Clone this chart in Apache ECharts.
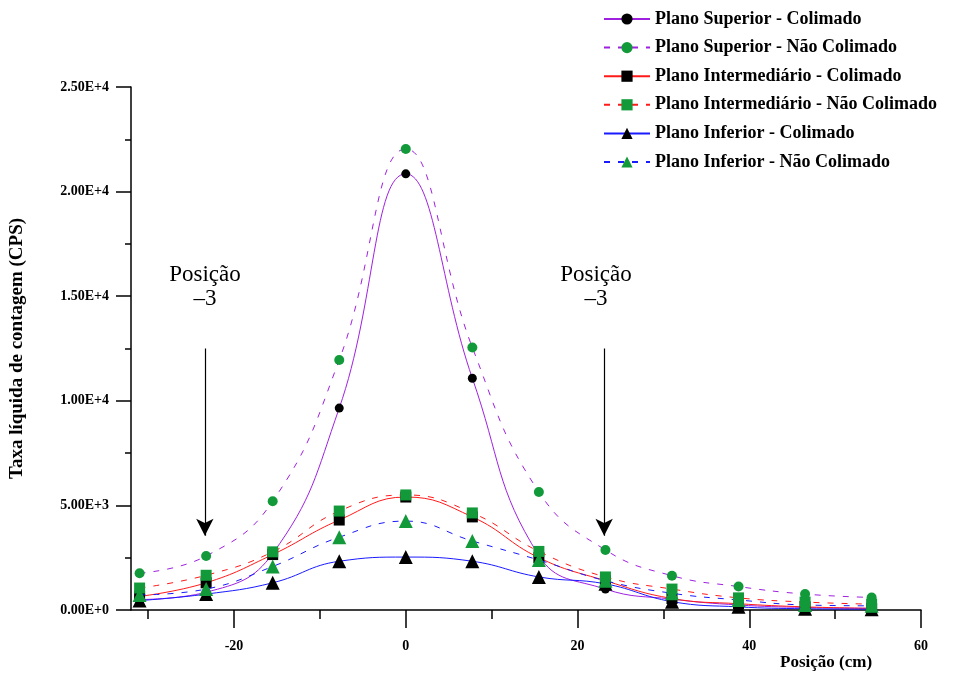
<!DOCTYPE html>
<html>
<head>
<meta charset="utf-8">
<script src="https://cdn.jsdelivr.net/npm/echarts@6/dist/echarts.min.js"></script>
<style>
    html,body{margin:0;padding:0;background:#fff;}
    #chart{width:958px;height:677px;}
</style>
</head>
<body>
<div id="chart"></div>
<script>
// posições (cm)
var posicoes = [-31, -23.25, -15.5, -7.75, 0, 7.75, 15.5, 23.25, 31, 38.75, 46.5, 54.25];

var superiorCol = [500, 850, 2700, 9650, 20850, 11080, 2600, 1000, 520, 240, 120, 80];
var superiorNao = [1760, 2580, 5200, 11950, 22040, 12550, 5640, 2870, 1640, 1120, 760, 600];
var interCol    = [650, 1300, 2650, 4300, 5400, 4450, 2500, 1400, 550, 300, 150, 80];
var interNao    = [1050, 1660, 2780, 4730, 5500, 4640, 2800, 1580, 1000, 580, 380, 280];
var inferiorCol = [450, 760, 1300, 2330, 2530, 2330, 1580, 1250, 400, 150, 60, 40];
var inferiorNao = [720, 1000, 2080, 3480, 4250, 3300, 2390, 1400, 800, 480, 240, 200];

var yLabels = ['0.00E+0', '5.00E+3', '1.00E+4', '1.50E+4', '2.00E+4', '2.50E+4'];
var xLabels = [-20, 0, 20, 40, 60];
var xMinor  = [-30, -10, 10, 30, 50];

var nomes = [
    'Plano Superior - Colimado',
    'Plano Superior - Não Colimado',
    'Plano Intermediário - Colimado',
    'Plano Intermediário - Não Colimado',
    'Plano Inferior - Colimado',
    'Plano Inferior - Não Colimado'
];

var serif = '"Liberation Serif", "Times New Roman", serif';
var purple = '#a020e0', red = '#ff1a1a', blue = '#1a1aff', green = '#129a3a';

function pares(vals){
    var out = [];
    for (var i = 0; i < posicoes.length; i++) out.push([posicoes[i], vals[i]]);
    return out;
}

function serie(nome, vals, cor, dash, simbolo, tam, corSimb, z){
    return {
        name: nome,
        type: 'line',
        data: pares(vals),
        smooth: 0.45,
        symbol: simbolo,
        symbolSize: tam,
        showAllSymbol: true,
        z: z,
        lineStyle: { color: cor, width: 1, type: dash ? [6, 8] : 'solid' },
        itemStyle: { color: corSimb, borderWidth: 0 },
        emphasis: { disabled: true }
    };
}

var series = [
    serie(nomes[0], superiorCol, purple, false, 'circle', 9, '#000', 2),
    serie(nomes[1], superiorNao, purple, true, 'circle', 10, green, 4),
    serie(nomes[2], interCol, red, false, 'rect', 11, '#000', 2),
    serie(nomes[3], interNao, red, true, 'rect', 11, green, 4),
    serie(nomes[4], inferiorCol, blue, false, 'triangle', 14, '#000', 2),
    serie(nomes[5], inferiorNao, blue, true, 'triangle', 14, green, 4)
];

// setas das posições
series.push({
    type: 'line',
    data: [],
    silent: true,
    markLine: {
        silent: true,
        symbol: ['none', 'arrow'],
        symbolSize: [13, 17],
        label: { show: false },
        lineStyle: { color: '#000', width: 1.2, type: 'solid' },
        data: [
            [{ coord: [-23.4, 12500] }, { coord: [-23.4, 3550] }],
            [{ coord: [23.1, 12500] }, { coord: [23.1, 3550] }]
        ]
    }
});

var myChart = echarts.init(document.getElementById('chart'));
myChart.setOption({
    animation: false,
    backgroundColor: '#fff',
    grid: { left: 131, right: 37, top: 87, bottom: 67, containLabel: false, outerBoundsMode: 'none' },
    legend: {
        orient: 'vertical',
        left: 598,
        top: 5,
        itemWidth: 46,
        itemHeight: 14,
        itemGap: 10.6,
        data: nomes,
        selectedMode: false,
        textStyle: { fontFamily: serif, fontWeight: 'bold', fontSize: 18, color: '#000' }
    },
    xAxis: [{
        type: 'value',
        min: -32,
        max: 60,
        position: 'bottom',
        splitLine: { show: false },
        axisLine: { onZero: false, lineStyle: { color: '#000', width: 1.5 } },
        axisTick: { show: true, customValues: xLabels, length: 18, lineStyle: { color: '#000', width: 1.5 } },
        axisLabel: {
            customValues: xLabels,
            margin: 29,
            color: '#000',
            fontFamily: serif,
            fontWeight: 'bold',
            fontSize: 14
        }
    }, {
        type: 'value',
        min: -32,
        max: 60,
        position: 'bottom',
        splitLine: { show: false },
        axisLine: { show: false, onZero: false },
        axisTick: { show: true, customValues: xMinor, length: 9, lineStyle: { color: '#000', width: 1.5 } },
        axisLabel: { show: false }
    }],
    yAxis: {
        type: 'value',
        min: 0,
        max: 25000,
        interval: 5000,
        name: 'Taxa líquida de contagem (CPS)',
        nameLocation: 'middle',
        nameGap: 104,
        nameTextStyle: { fontFamily: serif, fontWeight: 'bold', fontSize: 19, color: '#000' },
        splitLine: { show: false },
        axisLine: { show: true, onZero: false, lineStyle: { color: '#000', width: 1.5 } },
        axisTick: { show: true, length: 15, lineStyle: { color: '#000', width: 1.5 } },
        minorTick: { show: true, splitNumber: 2, length: 6, lineStyle: { color: '#000', width: 1.5 } },
        axisLabel: {
            margin: 22,
            color: '#000',
            fontFamily: serif,
            fontWeight: 'bold',
            fontSize: 14,
            formatter: function (v, i) { return yLabels[i]; }
        }
    },
    graphic: [
        {
            type: 'text', left: 780, top: 654,
            style: { text: 'Posição (cm)', font: 'bold 17px ' + serif, fill: '#000' }
        },
        {
            type: 'text', x: 205, y: 287,
            style: { text: 'Posição\n–3', font: '23px ' + serif, fill: '#000', align: 'center', verticalAlign: 'middle', lineHeight: 24 }
        },
        {
            type: 'text', x: 596, y: 287,
            style: { text: 'Posição\n–3', font: '23px ' + serif, fill: '#000', align: 'center', verticalAlign: 'middle', lineHeight: 24 }
        }
    ],
    series: series
});
</script>
</body>
</html>
